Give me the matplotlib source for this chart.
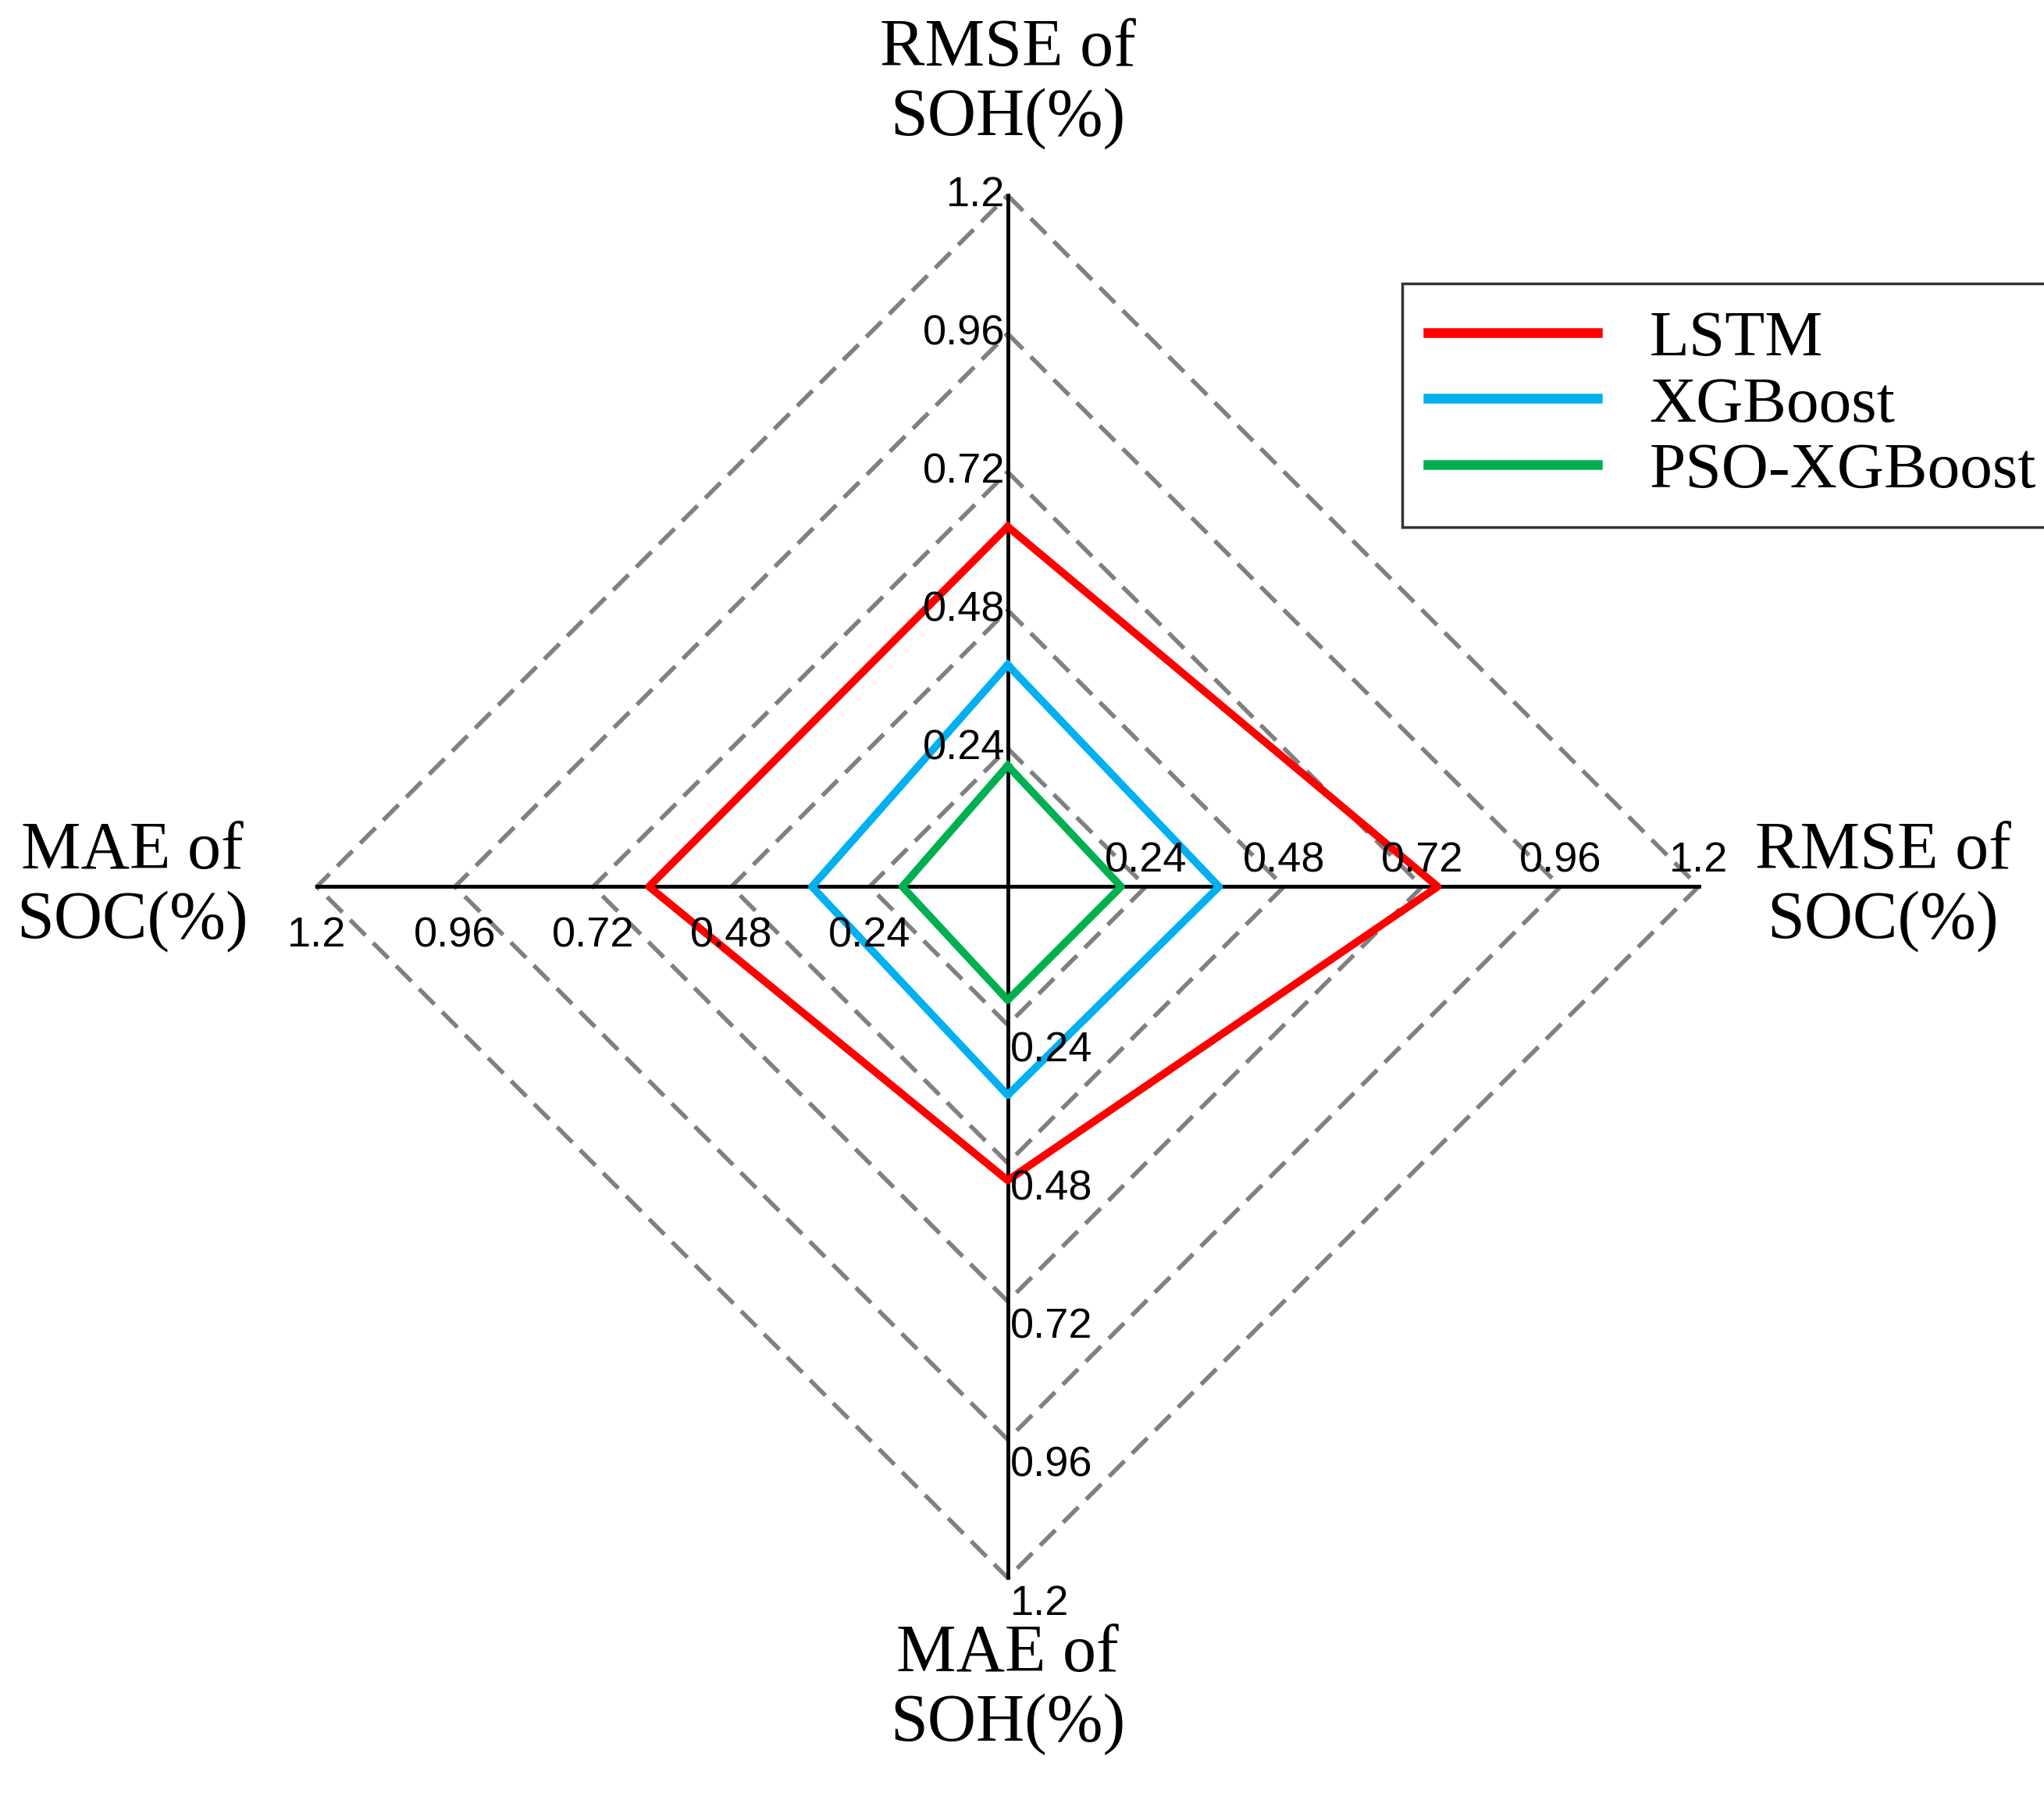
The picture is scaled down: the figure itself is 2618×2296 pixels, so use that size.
import numpy as np
import matplotlib.pyplot as plt

# axes order: top, right, bottom, left
axis_names = ['RMSE of\nSOH(%)', 'RMSE of\nSOC(%)', 'MAE of\nSOH(%)', 'MAE of\nSOC(%)']
models = ['LSTM', 'XGBoost', 'PSO-XGBoost']
lstm = [0.625, 0.747, 0.51, 0.623]
xgb = [0.385, 0.367, 0.362, 0.34]
pso = [0.21, 0.197, 0.197, 0.183]
levels = [0.24, 0.48, 0.72, 0.96, 1.2]
level_labels = ['0.24', '0.48', '0.72', '0.96', '1.2']
colors = ['#FF0000', '#00B0F0', '#00B050']

dirs = np.array([[0, 1], [1, 0], [0, -1], [-1, 0]])


def to_xy(vals):
    pts = dirs * np.array(vals)[:, None]
    return np.vstack([pts, pts[:1]])


fig = plt.figure(figsize=(26.18, 22.96), dpi=100)
ax = fig.add_axes([0.155, 0.120, 0.676, 0.771])
ax.set_xlim(-1.2, 1.2)
ax.set_ylim(-1.2, 1.2)
ax.axis('off')

for lv in levels:
    p = to_xy([lv] * 4)
    ax.plot(p[:, 0], p[:, 1], '--', color='#808080', lw=4, dashes=(5, 2.5), clip_on=False, zorder=1)

ax.plot([0, 0], [-1.2, 1.2], color='black', lw=3.5, clip_on=False, zorder=2)
ax.plot([-1.2, 1.2], [0, 0], color='black', lw=3.5, clip_on=False, zorder=2)

for vals, name, c in zip([lstm, xgb, pso], models, colors):
    p = to_xy(vals)
    ax.plot(p[:, 0], p[:, 1], color=c, lw=7, label=name, clip_on=False, zorder=3)

tf = dict(fontsize=39, family='Liberation Sans', zorder=4)
for lv, lab in zip(levels, level_labels):
    ax.text(-0.005, lv, lab, ha='right', va='center', **tf)
    ax.text(lv, 0.045, lab, ha='center', va='center', **tf)
    ax.text(0.005, -lv - 0.045, lab, ha='left', va='center', **tf)
    ax.text(-lv, -0.085, lab, ha='center', va='center', **tf)

lf = dict(fontsize=62, family='Liberation Serif', linespacing=1.15)
ax.text(0, 1.28, axis_names[0], ha='center', va='bottom', **lf)
ax.text(1.52, 0, axis_names[1], ha='center', va='center', **lf)
ax.text(0, -1.28, axis_names[2], ha='center', va='top', **lf)
ax.text(-1.52, 0, axis_names[3], ha='center', va='center', **lf)

leg = fig.legend(loc='upper left', bbox_to_anchor=(0.670, 0.860),
                 prop={'family': 'Liberation Serif', 'size': 60}, fancybox=False,
                 edgecolor='black', handlelength=2.6, borderpad=0.4, labelspacing=0.1)
leg.get_frame().set_linewidth(2.5)
for h in leg.get_lines():
    h.set_linewidth(9)

fig.savefig('out.png', dpi=100)
